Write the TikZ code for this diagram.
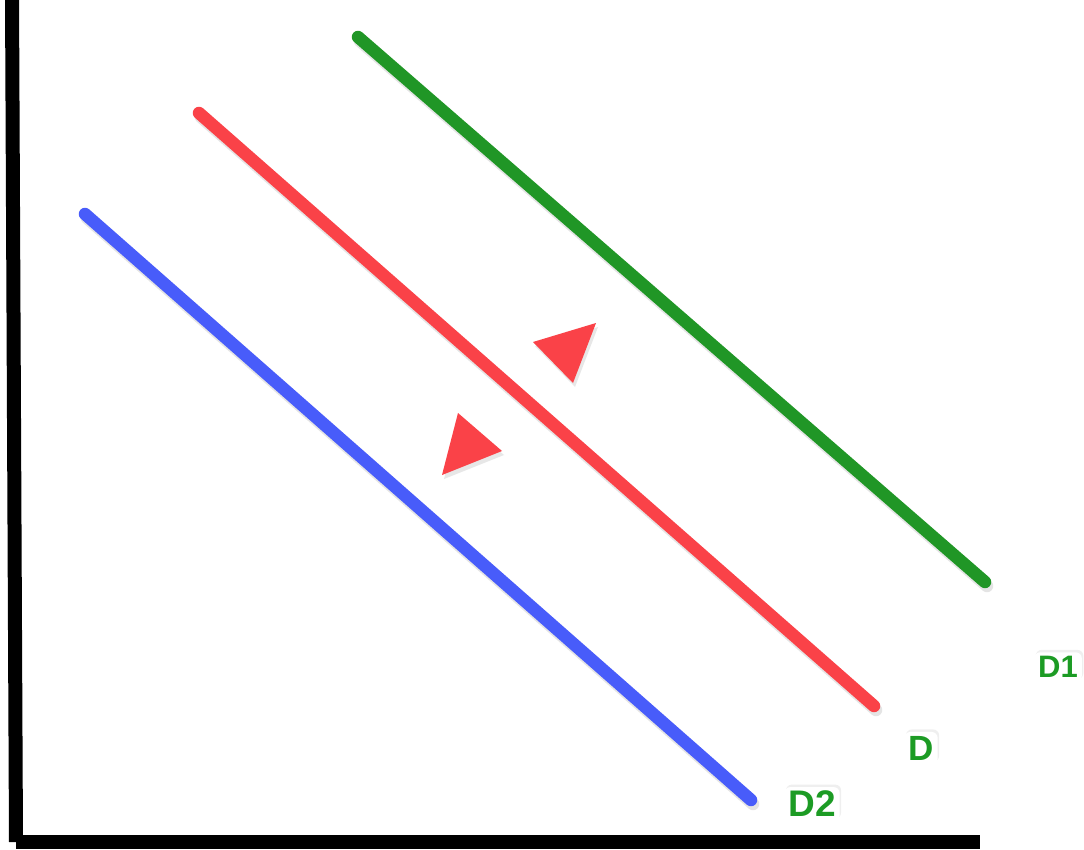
\documentclass[tikz,border=0pt]{standalone}
\usepackage{fontspec}
\setmainfont{Liberation Sans}
\usetikzlibrary{shadows}
\begin{document}
\begin{tikzpicture}[x=1pt,y=-1pt,
  curve/.style={line width=12.5pt,line cap=round},
  shade/.style={line width=12.5pt,line cap=round,draw=black!35,opacity=0.3},
  axis/.style={line width=14pt,draw=black},
  lbl/.style={text=lblgreen,font=\bfseries,fill=white,rounded corners=6pt,inner sep=4pt,
    drop shadow={opacity=0.12,shadow xshift=1.5pt,shadow yshift=2.5pt}},
  tri/.style={fill=arrred}]
\definecolor{lgreen}{RGB}{32,150,38}
\definecolor{lred}{RGB}{250,66,72}
\definecolor{lblue}{RGB}{72,92,250}
\definecolor{lblgreen}{RGB}{28,155,36}
\definecolor{arrred}{RGB}{250,66,72}
\useasboundingbox (0,0) rectangle (1084,850);
\fill[white] (0,0) rectangle (1084,850);
% axes
\coordinate (ytop) at (12,-5);
\coordinate (ybot) at (16,842);
\coordinate (xl) at (16,842);
\coordinate (xr) at (980,842);
\draw[axis] (ytop) -- (ybot);
\draw[axis] (xl) -- (xr);
% line end points
\coordinate (g1) at (358,37);  \coordinate (g2) at (985,582);
\coordinate (r1) at (199,113); \coordinate (r2) at (874,706);
\coordinate (b1) at (85,214);  \coordinate (b2) at (751,800);
% shadows
\draw[shade] ([shift={(2,4)}]g1) -- ([shift={(2,4)}]g2);
\draw[shade] ([shift={(2,4)}]r1) -- ([shift={(2,4)}]r2);
\draw[shade] ([shift={(2,4)}]b1) -- ([shift={(2,4)}]b2);
% curves
\draw[curve,lgreen] (g1) -- (g2);
\draw[curve,lred] (r1) -- (r2);
\draw[curve,lblue] (b1) -- (b2);
% arrows
\fill[black!30,opacity=0.3] (535,346) -- (598,327) -- (575,387) -- cycle;
\fill[black!30,opacity=0.3] (460,417) -- (504,455) -- (444,479) -- cycle;
\fill[tri] (533,342) -- (596,323) -- (573,383) -- cycle;
\fill[tri] (458,413) -- (502,451) -- (442,475) -- cycle;
% labels
\node[lbl,font=\bfseries\fontsize{31}{31}\selectfont] (lD1) at (1058,667) {D1};
\node[lbl,font=\bfseries\fontsize{35}{35}\selectfont] (lD) at (921,748) {D};
\node[lbl,font=\bfseries\fontsize{37}{37}\selectfont] (lD2) at (812,804) {D2};
\end{tikzpicture}
\end{document}
